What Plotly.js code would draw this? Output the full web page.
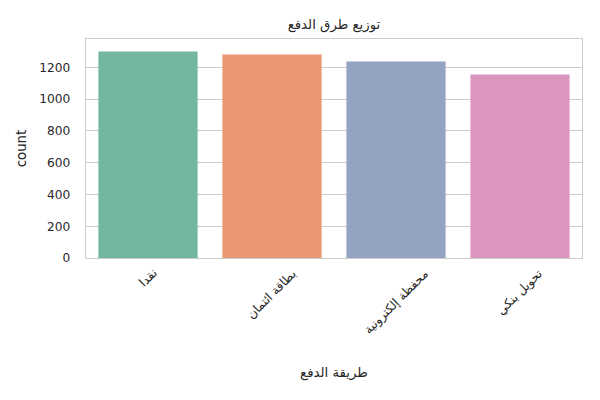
<!DOCTYPE html>
<html>
<head>
<meta charset="utf-8">
<script src="https://cdn.plot.ly/plotly-3.0.1.min.js"></script>
<style>html,body{margin:0;padding:0;background:#fff}#chart{width:600px;height:400px}</style>
</head>
<body>
<div id="chart"></div>
<script>
// Data
const categories = ["نقدا", "بطاقة ائتمان", "محفظة إلكترونية", "تحويل بنكي"];
const counts = [1300, 1281, 1237, 1156];
const yTicks = [0, 200, 400, 600, 800, 1000, 1200];
const barColors = ["#73b6a1", "#e99675", "#95a3c3", "#db96c0"];
const titleText = "توزيع طرق الدفع";
const xTitleText = "طريقة الدفع";
const yTitleText = "count";

const FONT = "DejaVu Sans, sans-serif";
const TXT = "#262626";

const trace = {
  type: "bar",
  x: categories,
  y: counts,
  marker: { color: barColors, line: { width: 0 } },
  width: 0.8,
  hoverinfo: "x+y"
};

const annotations = categories.map(c => ({
  x: c, xref: "x",
  y: 0, yref: "paper",
  yanchor: "top", xanchor: "center",
  yshift: -6,
  text: c,
  textangle: -45,
  showarrow: false,
  font: { family: FONT, size: 12.2, color: TXT }
}));

const layout = {
  width: 600, height: 400,
  margin: { l: 86, r: 18, t: 39, b: 142 },
  paper_bgcolor: "#ffffff",
  plot_bgcolor: "#ffffff",
  showlegend: false,
  bargap: 0.2,
  title: {
    text: titleText,
    font: { family: FONT, size: 13.3, color: TXT },
    x: 0.5, xref: "paper", xanchor: "center",
    y: 1 - 24 / 400, yref: "container", yanchor: "middle"
  },
  xaxis: {
    type: "category",
    range: [-0.5, categories.length - 0.5],
    showticklabels: false,
    ticks: "",
    showgrid: false,
    showline: true, mirror: true,
    linecolor: "#cccccc", linewidth: 1.25,
    zeroline: false,
    title: {
      text: xTitleText,
      font: { family: FONT, size: 13.3, color: TXT },
      standoff: 109
    }
  },
  yaxis: {
    range: [0, 1379],
    tickvals: yTicks,
    ticktext: yTicks.map(String),
    ticks: "",
    ticklabelstandoff: 12,
    tickfont: { family: FONT, size: 12.2, color: TXT },
    showgrid: true, gridcolor: "#cccccc", gridwidth: 1,
    showline: true, mirror: true,
    linecolor: "#cccccc", linewidth: 1.25,
    zeroline: false,
    title: {
      text: yTitleText,
      font: { family: FONT, size: 13.3, color: TXT },
      standoff: 9
    }
  },
  annotations: annotations
};

Plotly.newPlot("chart", [trace], layout, { displayModeBar: false, staticPlot: true });
</script>
</body>
</html>
